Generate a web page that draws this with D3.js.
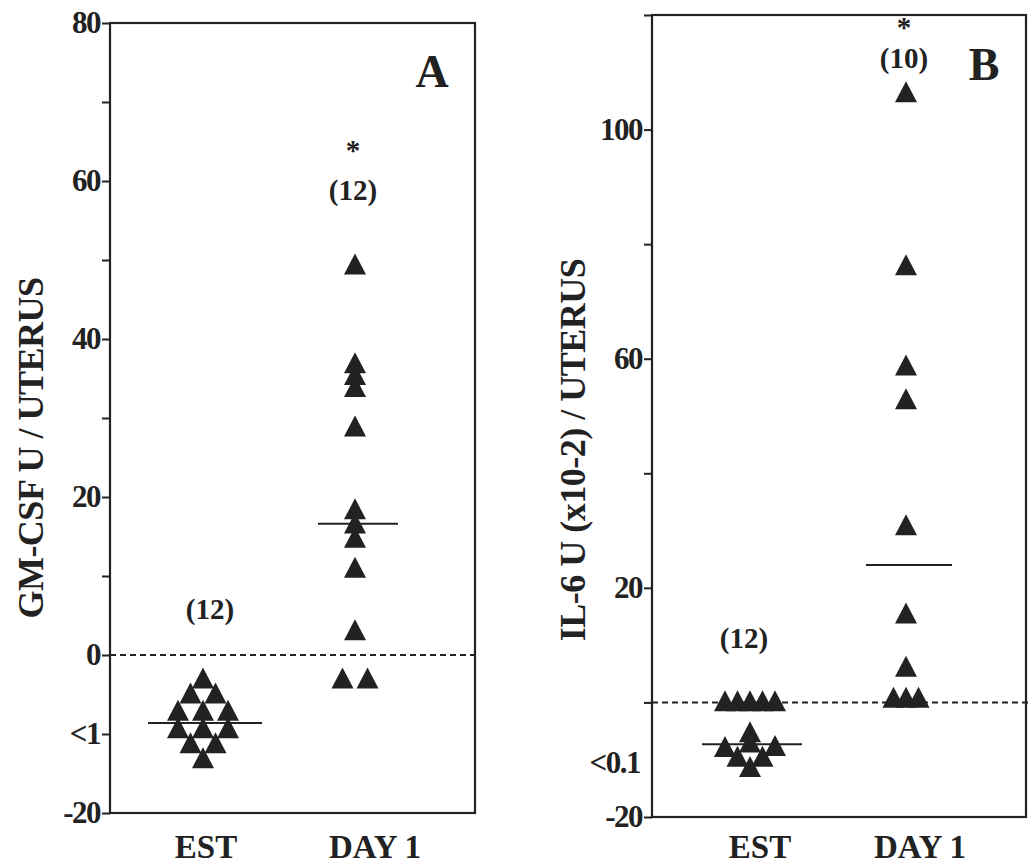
<!DOCTYPE html>
<html>
<head>
<meta charset="utf-8">
<script src="https://cdn.jsdelivr.net/npm/d3@7"></script>
<style>
  body { margin: 0; background: #fff; }
  svg { display: block; }
  text { font-family: "Liberation Serif", "DejaVu Serif", serif; font-weight: bold; fill: #222; }
</style>
</head>
<body>
<svg id="chart" width="1029" height="867"></svg>
<script>
// categories on the x axis
const categories = ["EST", "DAY 1"];

// panel A : GM-CSF U / uterus (values below 0 are "<1", plotted in the undetectable band)
const gmcsfEst = [-2.9, -4.8, -4.8, -7.0, -7.0, -7.0, -9.2, -9.2, -9.2, -11.1, -11.1, -13.0];
const gmcsfEstCol = [0, -1, 1, -2, 0, 2, -2, 0, 2, -1, 1, 0];   // dot-plot column of each point
const gmcsfDay1 = [49.5, 37, 35.5, 34, 29, 18.5, 16.7, 14.9, 11.1, 3.2, -2.9, -2.9];
const gmcsfDay1Col = [0, 0, 0, 0, 0, 0, 0, 0, 0, 0, -1, 1];
const gmcsfMedian = [-8.6, 16.6];
const gmcsfN = ["(12)", "(12)"];
const gmcsfSig = ["", "*"];
const gmcsfTicks = [-20, -10, 0, 10, 20, 30, 40, 50, 60, 70, 80];
const gmcsfTickLabels = { "-20": "-20", "-10": "<1", "0": "0", "20": "20", "40": "40", "60": "60", "80": "80" };

// panel B : IL-6 U (x10-2) / uterus (values below 0 are "<0.1")
const il6Est = [0.3, 0.3, 0.3, 0.3, 0.3, -5.1, -6.9, -7.7, -7.5, -9.4, -9.4, -11.2];
const il6EstCol = [-2, -1, 0, 1, 2, 0, 0, -2, 2, -1, 1, 0];
const il6Day1 = [106.6, 76.4, 58.9, 53, 31, 15.6, 6.3, 0.9, 0.9, 0.9];
const il6Day1Col = [0, 0, 0, 0, 0, 0, 0, -1, 0, 1];
const il6Median = [-7.3, 24];
const il6N = ["(12)", "(10)"];
const il6Sig = ["", "*"];
const il6Ticks = [-20, 0, 20, 40, 60, 80, 100, 120];
const il6TickLabels = { "-20": "-20", "20": "20", "60": "60", "100": "100" };

const ink = "#222";
const svg = d3.select("#chart");

const panels = [
  {
    letter: "A", title: "GM-CSF U / UTERUS",
    est: gmcsfEst, estCol: gmcsfEstCol, day1: gmcsfDay1, day1Col: gmcsfDay1Col,
    median: gmcsfMedian, n: gmcsfN, sig: gmcsfSig,
    ticks: gmcsfTicks, tickLabels: gmcsfTickLabels, lowLabel: null,
    domain: [-20, 80], top: 23, bottom: 813, left: 110, right: 475,
    xData: [203, 355], xLabel: [206, 375], medHalf: [57, 40], colStep: 12.5,
    titleX: 30, titleY: 448, letterX: 432, letterY: 87,
    nY: [619, 200], sigY: [0, 160], nX: [210, 353]
  },
  {
    letter: "B", title: "IL-6 U (x10-2) / UTERUS",
    est: il6Est, estCol: il6EstCol, day1: il6Day1, day1Col: il6Day1Col,
    median: il6Median, n: il6N, sig: il6Sig,
    ticks: il6Ticks, tickLabels: il6TickLabels, lowLabel: "<0.1",
    domain: [-20, 120], top: 15, bottom: 817, left: 652, right: 1026,
    xData: [750, 906], xLabel: [760, 920], medHalf: [50, 43], colStep: 12.5,
    titleX: 572, titleY: 450, letterX: 984, letterY: 80,
    nY: [648, 68], sigY: [0, 37], nX: [744, 904]
  }
];

// filled triangle centred on its bounding box
function triangle(w, h) {
  return `M0,${-h / 2}L${w / 2},${h / 2}L${-w / 2},${h / 2}Z`;
}

panels.forEach((p, pi) => {
  const g = svg.append("g");

  const y = d3.scaleLinear().domain(p.domain).range([p.bottom, p.top]);
  const x = d3.scalePoint().domain(categories).range(p.xData);

  // frame
  g.append("rect")
    .attr("x", p.left).attr("y", p.top)
    .attr("width", p.right - p.left).attr("height", p.bottom - p.top)
    .attr("fill", "none").attr("stroke", ink).attr("stroke-width", 2.2);

  // y axis
  const axis = d3.axisLeft(y)
    .tickValues(p.ticks)
    .tickSize(8)
    .tickPadding(2)
    .tickFormat((d) => p.tickLabels[String(d)] || "");
  const ax = g.append("g").attr("transform", `translate(${p.left},0)`).call(axis);
  ax.select(".domain").remove();
  ax.selectAll("line").attr("stroke", ink).attr("stroke-width", 2);
  ax.selectAll("text")
    .attr("font-size", 31)
    .attr("font-family", "Liberation Serif")
    .attr("font-weight", "bold")
    .attr("fill", ink)
    .attr("letter-spacing", -1.5);

  if (p.lowLabel) {
    g.append("text")
      .attr("x", p.left - 12).attr("y", y(-10.5))
      .attr("dy", "0.35em")
      .attr("text-anchor", "end")
      .attr("font-size", 31)
      .attr("letter-spacing", -1.5)
      .text(p.lowLabel);
  }

  // dashed detection limit at 0
  g.append("line")
    .attr("x1", p.left).attr("x2", pi === 1 ? 1029 : p.right)
    .attr("y1", y(0)).attr("y2", y(0))
    .attr("stroke", ink).attr("stroke-width", 2)
    .attr("stroke-dasharray", "6,4");

  // axis title
  g.append("text")
    .attr("transform", `translate(${p.titleX},${p.titleY}) rotate(-90)`)
    .attr("text-anchor", "middle")
    .attr("dy", "0.35em")
    .attr("font-size", 36)
    .attr("letter-spacing", -0.5)
    .text(p.title);

  // category labels
  categories.forEach((c, i) => {
    g.append("text")
      .attr("x", p.xLabel[i]).attr("y", 858)
      .attr("text-anchor", "middle")
      .attr("font-size", 33)
      .text(c);
  });

  // points
  const pts = [];
  p.est.forEach((v, i) => pts.push({ cat: "EST", value: v, col: p.estCol[i] }));
  p.day1.forEach((v, i) => pts.push({ cat: "DAY 1", value: v, col: p.day1Col[i] }));

  g.append("g")
    .selectAll("path")
    .data(pts)
    .join("path")
    .attr("d", triangle(22, 21))
    .attr("transform", (d) => `translate(${x(d.cat) + d.col * p.colStep},${y(d.value)})`)
    .attr("fill", ink);

  // median bars
  g.append("g")
    .selectAll("line")
    .data(p.median)
    .join("line")
    .attr("x1", (d, i) => x(categories[i]) - p.medHalf[i] + (i === 0 ? 2 : 3))
    .attr("x2", (d, i) => x(categories[i]) + p.medHalf[i] + (i === 0 ? 2 : 3))
    .attr("y1", (d) => y(d)).attr("y2", (d) => y(d))
    .attr("stroke", ink).attr("stroke-width", 2);

  // group sizes and significance
  categories.forEach((c, i) => {
    g.append("text")
      .attr("x", p.nX[i]).attr("y", p.nY[i])
      .attr("text-anchor", "middle")
      .attr("font-size", 29)
      .text(p.n[i]);
    if (p.sig[i]) {
      g.append("text")
        .attr("x", p.nX[i]).attr("y", p.sigY[i])
        .attr("text-anchor", "middle")
        .attr("font-size", 29)
        .text(p.sig[i]);
    }
  });

  // panel letter
  g.append("text")
    .attr("x", p.letterX).attr("y", p.letterY)
    .attr("text-anchor", "middle")
    .attr("font-size", 46)
    .text(p.letter);
});
</script>
</body>
</html>
